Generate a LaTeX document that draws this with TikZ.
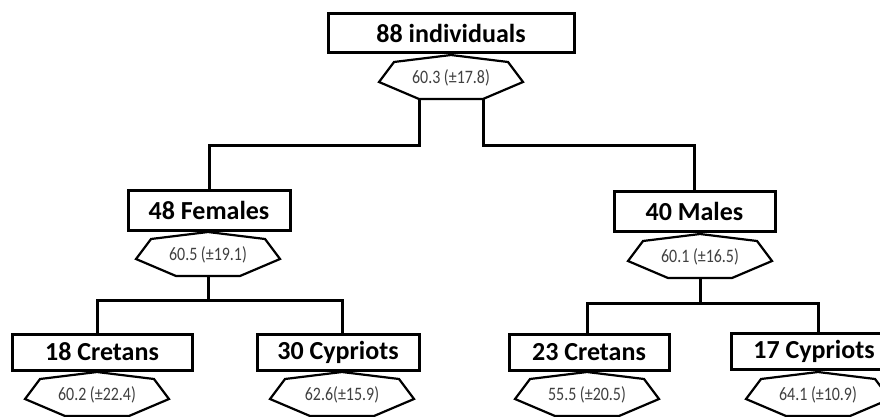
\documentclass[tikz,border=0pt]{standalone}
\usepackage{fontspec}
\setmainfont{Carlito}
\newfontfamily\meanfont[FakeStretch=0.84]{Carlito}
\usepackage{tikz}
\usetikzlibrary{calc}

\tikzset{
  group/.style={draw, line width=3pt, inner sep=0pt, font=\bfseries\fontsize{26}{30}\selectfont},
  meantext/.style={inner sep=0pt, text=black!75, font=\meanfont\fontsize{19}{22}\selectfont},
  hepline/.style={line width=2.2pt, line join=miter},
  link/.style={line width=3pt}
}

% heptagon under a box: name, apex, text
\newcommand{\meanshape}[3]{
  \coordinate (#1) at #2;
  \draw[hepline] (#1) -- ++(57,7) -- ++(15,20) -- ++(-40,17) -- ++(-64,0)
    -- ++(-40,-17) -- ++(15,-20) -- cycle;
  \node[meantext] (#1-t) at ($(#1)+(0,23)$) {#3};
  \coordinate (#1-bl) at ($(#1)+(-32,44)$);
  \coordinate (#1-br) at ($(#1)+(32,44)$);
  \coordinate (#1-b) at ($(#1)+(0,44)$);
}

\begin{document}
\begin{tikzpicture}[x=1pt, y=-1pt]
  \useasboundingbox (0,0) rectangle (880,417);
  \clip (0,0) rectangle (880,417);
  \fill[white] (0,0) rectangle (880,417);

  \node[group, minimum width=246pt, minimum height=39pt] (all) at (451,33.5) {88 individuals};
  \node[group, minimum width=162pt, minimum height=40pt] (fem) at (209,210) {48 Females};
  \node[group, minimum width=161pt, minimum height=40pt] (male) at (694.5,211) {40 Males};
  \node[group, minimum width=180pt, minimum height=36pt] (cre18) at (102,352) {18 Cretans};
  \node[group, minimum width=162pt, minimum height=36pt] (cyp30) at (338,352) {30 Cypriots};
  \node[group, minimum width=160pt, minimum height=36pt] (cre23) at (589,352) {23 Cretans};
  \node[group, minimum width=166pt, minimum height=36pt] (cyp17) at (814,351.5) {17 Cypriots};

  \meanshape{hall}{(451,55)}{60.3 (±17.8)}
  \meanshape{hfem}{(208,232)}{60.5 (±19.1)}
  \meanshape{hmale}{(700,234)}{60.1 (±16.5)}
  \meanshape{h18}{(97,372)}{60.2 (±22.4)}
  \meanshape{h30}{(342,372)}{62.6(±15.9)}
  \meanshape{h23}{(587,372)}{55.5 (±20.5)}
  \meanshape{h17}{(818,372)}{64.1 (±10.9)}

  \draw[link] (hall-bl) -- ++(0,46) -| (fem.north);
  \draw[link] (hall-br) -- ++(0,46) -| (male.north);
  \draw[link] (hfem-b) -- ++(0,24) -| (cre18.north -| h18);
  \draw[link] (hfem-b) -- ++(0,24) -| (cyp30.north -| h30);
  \draw[link] (hmale-b) -- ++(0,25) -| (cre23.north -| h23);
  \draw[link] (hmale-b) -- ++(0,25) -| (cyp17.north -| h17);
\end{tikzpicture}
\end{document}
